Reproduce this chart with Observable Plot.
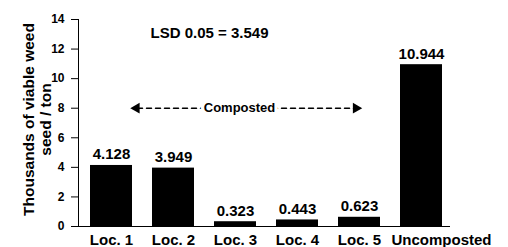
<!DOCTYPE html>
<html><head><meta charset="utf-8">
<script src="https://cdn.jsdelivr.net/npm/d3@7"></script>
<script src="https://cdn.jsdelivr.net/npm/@observablehq/plot@0.6"></script>
<style>html,body{margin:0;padding:0;background:#fff;}</style>
</head><body><div id="chart"></div>
<script>
const categories = ["Loc. 1", "Loc. 2", "Loc. 3", "Loc. 4", "Loc. 5", "Uncomposted"];
const values = [4.128, 3.949, 0.323, 0.443, 0.623, 10.944];
const valueLabels = ["4.128", "3.949", "0.323", "0.443", "0.623", "10.944"];
const yTicks = [0, 2, 4, 6, 8, 10, 12, 14];
const yTitle = ["Thousands of viable weed", "seed / ton"];
const lsdText = "LSD 0.05 = 3.549";
const groupLabel = "Composted";
const groupStart = "Loc. 1";
const groupEnd = "Loc. 5";
const groupMid = "Loc. 3";
const groupLevel = 8;

const data = categories.map((c, i) => ({category: c, value: values[i], label: valueLabels[i]}));
const font = "'Liberation Sans', Arial, Helvetica, sans-serif";

const chart = Plot.plot({
  width: 508, height: 247,
  marginTop: 19, marginBottom: 21, marginLeft: 78, marginRight: 58,
  style: {fontFamily: font, fontWeight: "bold", color: "#000", background: "#fff", overflow: "visible"},
  x: {domain: categories, paddingInner: 0.324, paddingOuter: 0.157, align: 0.615},
  y: {domain: [0, 14]},
  marks: [
    Plot.barY(data, {x: "category", y: "value", fill: "#000"}),
    Plot.frame({anchor: "left", stroke: "#000"}),
    Plot.ruleY([0], {stroke: "#000"}),
    Plot.axisY({ticks: yTicks, tickSize: 7, tickPadding: 7, fontSize: 12, fontWeight: "bold", label: null}),
    Plot.axisX({ticks: categories.slice(0, 5), tickSize: 0, tickPadding: 8, fontSize: 15, fontWeight: "bold", label: null}),
    Plot.axisX({ticks: categories.slice(5), tickSize: 0, tickPadding: 8, fontSize: 15, fontWeight: "bold", dx: 20, label: null}),
    Plot.text(data, {x: "category", y: "value", text: "label", dy: -6, lineAnchor: "bottom", fontSize: 15, fontWeight: "bold"}),
    Plot.text([yTitle.join("\n")], {text: d => d, frameAnchor: "left", textAnchor: "middle", lineAnchor: "middle", rotate: -90, dx: -41.5, dy: -3.5, fontSize: 15.5, lineHeight: 1.1, fontWeight: "bold"}),
    Plot.text([lsdText], {text: d => d, frameAnchor: "top-left", textAnchor: "start", dx: 72, dy: 18, lineAnchor: "bottom", fontSize: 15, fontWeight: "bold"}),
    Plot.arrow([{a: groupStart, b: groupEnd, y: groupLevel}], {x1: "a", x2: "b", y1: "y", y2: "y", headLength: 0, insetStart: 26, insetEnd: 5, stroke: "#000", strokeWidth: 1.5, strokeDasharray: "5,4"}),
    Plot.text([{c: groupMid, y: groupLevel, t: groupLabel}], {x: "c", y: "y", text: "t", dx: 4, fontSize: 13, fontWeight: "bold", fill: "#000", stroke: "#fff", strokeWidth: 7, paintOrder: "stroke"}),
    Plot.dot([{c: groupStart, y: groupLevel}], {x: "c", y: "y", symbol: "triangle", rotate: -90, r: 4, fill: "#000", stroke: null, dx: 25}),
    Plot.dot([{c: groupEnd, y: groupLevel}], {x: "c", y: "y", symbol: "triangle", rotate: 90, r: 4, fill: "#000", stroke: null, dx: -3.5})
  ]
});
document.getElementById("chart").appendChild(chart);
</script>
</body></html>
